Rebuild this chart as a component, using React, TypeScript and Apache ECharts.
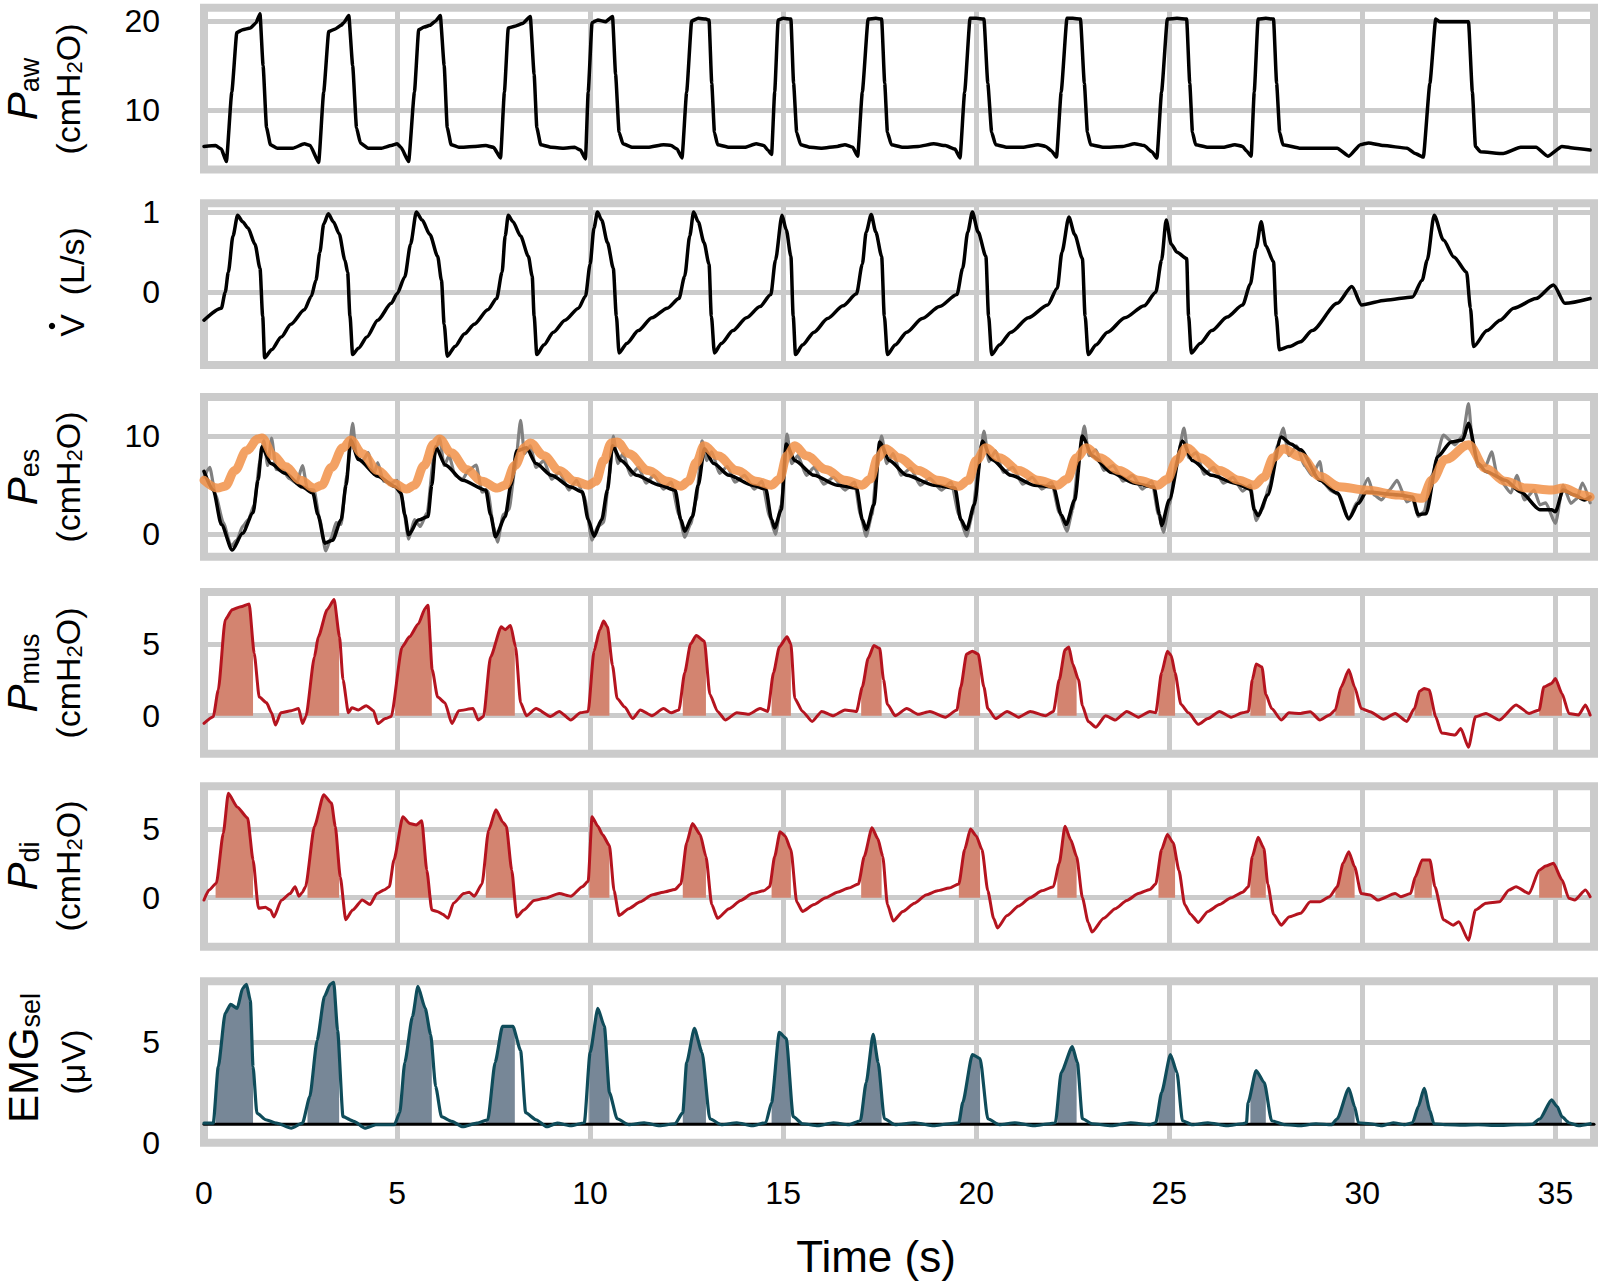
import React, { useEffect, useRef } from "react";
import * as echarts from "echarts";

// ---------------- DATA ----------------
const TIME_TICKS = [0, 5, 10, 15, 20, 25, 30, 35];

const PAW: number[][] = [
  [0,5.9],[0.3,6.0],[0.45,5.6],[0.58,4.2],[0.72,12],[0.85,18.7],[1.0,19.0],[1.2,19.2],[1.35,19.8],[1.45,20.8],[1.53,15],[1.62,8],[1.72,6.1],[1.9,5.7],[2.3,5.7],[2.6,6.2],[2.75,6.0],[2.97,4.1],[3.1,12],[3.23,18.8],[3.4,19.1],[3.55,19.5],[3.62,19.8],[3.75,20.6],[3.85,15],[3.95,8],[4.05,6.3],[4.25,5.7],[4.6,5.7],[4.85,6.0],[5.0,6.2],[5.1,5.8],[5.3,4.2],[5.45,12],[5.56,19],[5.7,19.3],[5.85,19.5],[6.0,20],[6.12,20.6],[6.22,15],[6.3,8],[6.4,6.1],[6.6,5.8],[7.0,5.9],[7.3,6.0],[7.5,5.8],[7.68,4.6],[7.78,12],[7.88,19.2],[8.05,19.4],[8.25,19.7],[8.45,20.5],[8.55,14],[8.62,8],[8.72,6.1],[9.0,5.8],[9.3,5.7],[9.6,5.8],[9.75,5.5],[9.88,4.5],[9.95,12],[10.05,19.8],[10.2,20.1],[10.4,19.9],[10.58,20.5],[10.66,14],[10.75,7.5],[10.85,6.2],[11.1,5.8],[11.5,5.8],[11.9,6.1],[12.1,6.0],[12.25,5.6],[12.38,4.6],[12.5,12],[12.63,20],[12.8,20.3],[13.0,20.2],[13.08,20.1],[13.15,13],[13.22,7.5],[13.3,6.1],[13.6,5.8],[14.0,5.8],[14.3,6.2],[14.5,6.0],[14.6,5.5],[14.7,5.0],[14.78,12],[14.87,20.1],[15.0,20.3],[15.2,20.2],[15.27,13],[15.35,7.5],[15.45,6.1],[15.7,5.8],[16.0,5.7],[16.4,5.9],[16.6,6.1],[16.8,5.8],[16.93,4.8],[17.05,12],[17.2,20.2],[17.4,20.3],[17.55,20.2],[17.63,13],[17.7,7.5],[17.8,6.1],[18.1,5.8],[18.5,5.9],[18.9,6.2],[19.2,6.0],[19.45,5.6],[19.58,4.6],[19.7,12],[19.84,20.3],[20.0,20.3],[20.2,20.2],[20.3,13],[20.4,7.5],[20.5,6.1],[20.8,5.8],[21.2,5.8],[21.6,6.1],[21.8,5.9],[21.95,5.4],[22.08,4.7],[22.2,12],[22.35,20.3],[22.5,20.3],[22.7,20.2],[22.8,13],[22.88,7.5],[22.96,6.1],[23.3,5.8],[23.8,5.9],[24.1,6.2],[24.35,6.0],[24.55,5.3],[24.68,4.6],[24.8,12],[24.95,20.2],[25.2,20.3],[25.45,20.2],[25.53,13],[25.6,7.5],[25.68,6.1],[26.0,5.8],[26.4,5.8],[26.7,6.1],[26.9,5.9],[27.0,5.4],[27.12,4.8],[27.2,12],[27.3,20.2],[27.5,20.3],[27.7,20.2],[27.78,13],[27.86,7.5],[27.94,6.1],[28.4,5.7],[29.35,5.7],[29.65,4.8],[29.95,6.1],[30.16,6.3],[30.55,6.0],[31.16,5.7],[31.37,5.1],[31.58,4.7],[31.75,13],[31.9,20.2],[32.0,19.9],[32.4,19.9],[32.75,19.9],[32.85,12],[32.93,5.9],[33.06,5.3],[33.65,5.1],[34.1,5.8],[34.5,5.8],[34.8,4.8],[35.17,5.9],[35.5,5.7],[35.9,5.5]
];

const VDOT: number[][] = [
  [0,-0.35],[0.45,-0.2],[0.55,0.0],[0.63,0.25],[0.75,0.7],[0.87,0.96],[1.0,0.88],[1.14,0.8],[1.32,0.6],[1.45,0.3],[1.52,-0.3],[1.57,-0.82],[1.75,-0.72],[2.0,-0.56],[2.25,-0.4],[2.6,-0.22],[2.78,-0.05],[2.9,0.15],[3.0,0.5],[3.1,0.85],[3.22,0.98],[3.35,0.88],[3.5,0.73],[3.65,0.4],[3.72,0.25],[3.78,-0.3],[3.85,-0.78],[4.0,-0.7],[4.22,-0.56],[4.5,-0.35],[4.85,-0.14],[5.0,-0.02],[5.2,0.19],[5.35,0.6],[5.5,1.0],[5.65,0.9],[5.85,0.72],[6.05,0.45],[6.15,0.15],[6.22,-0.4],[6.3,-0.8],[6.5,-0.68],[6.75,-0.52],[7.0,-0.4],[7.35,-0.22],[7.58,-0.08],[7.72,0.25],[7.8,0.7],[7.88,0.96],[8.0,0.88],[8.2,0.7],[8.4,0.45],[8.5,0.2],[8.55,-0.3],[8.62,-0.78],[8.8,-0.66],[9.05,-0.5],[9.35,-0.35],[9.7,-0.2],[9.88,-0.05],[10.0,0.35],[10.1,0.8],[10.19,1.0],[10.3,0.9],[10.45,0.62],[10.6,0.3],[10.68,-0.3],[10.75,-0.76],[10.95,-0.64],[11.25,-0.48],[11.6,-0.32],[12.0,-0.2],[12.3,-0.08],[12.45,0.2],[12.58,0.7],[12.68,1.0],[12.8,0.88],[12.95,0.62],[13.08,0.35],[13.14,-0.3],[13.22,-0.76],[13.4,-0.64],[13.7,-0.48],[14.05,-0.32],[14.4,-0.18],[14.68,-0.03],[14.8,0.4],[14.97,0.96],[15.08,0.78],[15.2,0.45],[15.26,-0.3],[15.32,-0.78],[15.5,-0.66],[15.8,-0.5],[16.15,-0.33],[16.55,-0.17],[16.9,-0.02],[17.05,0.35],[17.15,0.75],[17.28,0.97],[17.4,0.75],[17.55,0.45],[17.62,-0.3],[17.7,-0.78],[17.9,-0.66],[18.2,-0.5],[18.6,-0.33],[19.05,-0.18],[19.5,-0.03],[19.65,0.3],[19.78,0.75],[19.9,1.0],[20.05,0.75],[20.25,0.45],[20.32,-0.3],[20.4,-0.78],[20.6,-0.66],[20.9,-0.5],[21.35,-0.32],[21.85,-0.16],[22.1,0.05],[22.22,0.5],[22.4,0.94],[22.55,0.72],[22.75,0.42],[22.82,-0.3],[22.9,-0.78],[23.1,-0.66],[23.4,-0.5],[23.85,-0.32],[24.35,-0.17],[24.65,0.0],[24.8,0.4],[24.92,0.9],[25.05,0.6],[25.2,0.5],[25.45,0.42],[25.5,-0.3],[25.57,-0.76],[25.8,-0.64],[26.1,-0.48],[26.5,-0.31],[26.9,-0.16],[27.1,0.1],[27.25,0.55],[27.38,0.88],[27.5,0.58],[27.7,0.38],[27.77,-0.3],[27.85,-0.72],[28.1,-0.68],[28.4,-0.62],[28.7,-0.48],[29.35,-0.14],[29.73,0.07],[29.98,-0.16],[30.6,-0.1],[31.3,-0.06],[31.55,0.15],[31.68,0.4],[31.86,0.96],[32.1,0.65],[32.37,0.44],[32.7,0.25],[32.8,-0.2],[32.88,-0.68],[33.23,-0.48],[33.57,-0.35],[33.92,-0.2],[34.5,-0.08],[34.95,0.09],[35.25,-0.14],[35.9,-0.08]
];

const PES_RAW: number[][] = [
  [0,5.8],[0.15,6.8],[0.3,4.0],[0.5,1.2],[0.7,-1.2],[0.85,-0.6],[1.0,0.8],[1.15,1.5],[1.3,3.0],[1.45,7.5],[1.55,9.5],[1.65,7.0],[1.75,9.8],[1.87,6.6],[2.05,6.5],[2.2,5.7],[2.4,5.2],[2.55,7.0],[2.68,4.6],[2.85,4.5],[3.0,1.5],[3.15,-1.7],[3.3,-0.3],[3.42,1.2],[3.55,1.0],[3.7,6],[3.85,11.3],[3.95,8.0],[4.1,7.4],[4.25,8.3],[4.4,6.1],[4.5,7.3],[4.65,5.4],[4.85,5.2],[5.0,5.5],[5.12,3.8],[5.3,-0.5],[5.45,1.5],[5.6,0.8],[5.78,2.2],[5.95,7.8],[6.1,9.8],[6.22,7.0],[6.35,8.0],[6.5,6.0],[6.7,5.6],[6.85,6.5],[7.05,7.05],[7.2,4.3],[7.35,4.4],[7.5,0.8],[7.6,-0.8],[7.75,2.0],[7.9,2.5],[8.05,6.5],[8.2,11.6],[8.3,8.2],[8.45,9.0],[8.6,6.8],[8.8,7.5],[9.0,5.6],[9.2,6.3],[9.45,4.5],[9.65,5.5],[9.85,3.8],[10.05,-0.6],[10.2,0.8],[10.35,1.2],[10.5,6.0],[10.6,10.0],[10.72,7.2],[10.85,8.2],[11.05,6.0],[11.25,6.8],[11.45,5.2],[11.65,6.0],[11.9,4.6],[12.1,5.3],[12.3,2.0],[12.45,-0.3],[12.6,1.0],[12.75,3.5],[12.9,9.5],[13.02,7.5],[13.15,8.4],[13.35,6.2],[13.55,6.9],[13.75,5.3],[14.0,6.0],[14.25,4.6],[14.45,5.4],[14.65,1.8],[14.8,0.0],[14.95,3.0],[15.1,10.2],[15.22,7.2],[15.38,8.0],[15.6,6.0],[15.8,6.8],[16.05,5.1],[16.3,5.8],[16.6,4.5],[16.85,5.3],[17.0,2.0],[17.15,-0.2],[17.3,2.0],[17.45,8.0],[17.55,10.0],[17.68,7.2],[17.85,8.2],[18.05,6.0],[18.3,6.7],[18.55,5.0],[18.8,5.7],[19.1,4.5],[19.35,5.3],[19.55,2.0],[19.75,-0.2],[19.9,2.0],[20.05,6.5],[20.2,10.5],[20.33,7.4],[20.5,8.5],[20.7,6.3],[20.95,6.8],[21.2,5.1],[21.45,5.8],[21.7,4.6],[21.95,5.3],[22.15,2.2],[22.35,0.3],[22.5,2.5],[22.65,7.5],[22.8,11.0],[22.92,8.0],[23.1,8.6],[23.3,6.5],[23.55,7.0],[23.8,5.4],[24.05,6.0],[24.3,4.6],[24.55,5.4],[24.72,2.0],[24.85,0.2],[25.0,3.0],[25.2,7.5],[25.38,10.8],[25.5,7.8],[25.7,8.3],[25.9,6.1],[26.15,6.8],[26.4,5.2],[26.65,5.8],[26.9,4.4],[27.1,5.0],[27.25,1.4],[27.4,2.5],[27.6,5.0],[27.8,9.0],[27.95,10.8],[28.1,8.0],[28.3,9.0],[28.5,7.0],[28.7,6.0],[28.9,7.4],[29.0,5.2],[29.2,4.4],[29.4,4.0],[29.65,1.5],[29.85,3.2],[30.15,5.7],[30.3,4.0],[30.5,3.5],[30.7,4.5],[30.9,5.5],[31.15,3.3],[31.3,3.6],[31.45,1.8],[31.6,2.3],[31.8,6.0],[32.1,10.1],[32.4,9.1],[32.6,10.0],[32.75,13.3],[32.85,9.5],[33.0,6.9],[33.2,7.0],[33.35,8.4],[33.5,5.9],[33.85,4.2],[34.0,6.0],[34.2,3.5],[34.45,4.5],[34.6,3.0],[34.75,3.2],[35.0,1.1],[35.2,5.0],[35.4,3.15],[35.55,3.6],[35.7,5.2],[35.9,3.2]
];

const PES: number[][] = [
  [0,6.4],[0.24,4.5],[0.45,1.0],[0.73,-1.6],[1.0,0.1],[1.27,2.2],[1.4,5.5],[1.5,8.9],[1.73,7.2],[2.1,6.2],[2.55,4.8],[2.82,4.2],[2.95,2.0],[3.13,-0.9],[3.33,-0.6],[3.55,1.45],[3.68,5.0],[3.8,9.6],[4.0,7.6],[4.5,5.9],[4.95,4.85],[5.1,4.2],[5.2,2.0],[5.3,-0.05],[5.55,1.45],[5.8,1.8],[5.9,5.0],[6.0,8.9],[6.25,7.05],[6.7,5.5],[7.3,4.5],[7.42,2.0],[7.55,-0.25],[7.8,1.8],[7.95,5.0],[8.1,8.5],[8.35,8.8],[8.6,7.2],[9.0,6.0],[9.5,4.8],[9.8,4.3],[9.95,1.5],[10.1,-0.2],[10.3,1.5],[10.45,4.5],[10.58,9.0],[10.8,7.5],[11.2,6.0],[11.8,5.0],[12.2,4.5],[12.35,1.5],[12.45,0.3],[12.65,1.8],[12.8,5.0],[12.96,8.7],[13.2,7.2],[13.6,6.0],[14.2,5.0],[14.55,4.6],[14.7,1.5],[14.78,0.65],[14.95,2.5],[15.08,9.2],[15.3,7.5],[15.8,6.0],[16.4,5.0],[16.9,4.7],[17.05,1.5],[17.15,0.5],[17.35,3.0],[17.5,9.4],[17.75,7.5],[18.2,6.0],[18.9,5.0],[19.45,4.7],[19.6,1.5],[19.75,0.5],[19.95,3.0],[20.16,9.5],[20.4,7.6],[20.9,6.0],[21.5,5.0],[22.0,4.8],[22.2,2.0],[22.33,1.0],[22.55,3.5],[22.75,10.0],[23.0,8.0],[23.5,6.3],[24.1,5.2],[24.6,4.8],[24.75,2.0],[24.8,0.9],[25.0,3.5],[25.34,9.5],[25.6,7.5],[26.1,6.0],[26.7,5.2],[27.1,4.6],[27.2,2.5],[27.3,1.9],[27.55,4.0],[27.9,9.9],[28.15,9.2],[28.4,8.6],[28.9,5.5],[29.35,4.2],[29.65,1.6],[29.9,3.15],[30.1,4.3],[30.95,4.0],[31.3,3.8],[31.45,2.0],[31.65,2.1],[31.95,7.9],[32.3,9.4],[32.6,9.6],[32.75,11.3],[33.0,7.2],[33.2,6.4],[33.7,5.5],[34.1,4.3],[34.6,2.5],[34.9,2.5],[35.0,2.3],[35.2,4.5],[35.5,4.0],[35.75,3.5],[35.9,3.8]
];

const PES_SMOOTH: number[][] = [
  [0,5.5],[0.35,4.7],[0.55,4.9],[0.8,6.5],[1.1,8.5],[1.4,9.7],[1.5,9.8],[1.8,8.0],[2.1,6.9],[2.5,5.5],[2.85,4.7],[3.05,5.0],[3.3,6.8],[3.6,8.8],[3.8,9.6],[4.1,8.2],[4.5,6.5],[4.9,5.2],[5.25,4.6],[5.45,5.0],[5.7,7.0],[5.95,9.2],[6.1,9.7],[6.4,8.3],[6.8,6.6],[7.2,5.4],[7.6,4.7],[7.8,5.0],[8.05,7.0],[8.3,8.8],[8.45,9.3],[8.8,8.0],[9.2,6.5],[9.6,5.4],[9.95,5.0],[10.15,5.4],[10.35,7.5],[10.55,9.3],[10.7,9.4],[11.0,8.2],[11.5,6.5],[12.0,5.4],[12.35,4.9],[12.55,5.4],[12.75,7.3],[12.95,9.0],[13.3,8.0],[13.8,6.5],[14.3,5.4],[14.7,5.0],[14.9,5.6],[15.1,8.0],[15.3,9.0],[15.6,8.0],[16.1,6.6],[16.6,5.5],[17.05,5.0],[17.25,5.6],[17.45,7.8],[17.65,8.7],[18.0,7.8],[18.5,6.5],[19.0,5.5],[19.55,4.9],[19.8,5.5],[20.0,7.5],[20.25,8.8],[20.6,7.8],[21.1,6.5],[21.6,5.5],[22.1,5.0],[22.35,5.6],[22.6,7.8],[22.85,8.8],[23.2,7.8],[23.7,6.5],[24.2,5.5],[24.7,5.0],[24.95,5.6],[25.2,7.6],[25.45,8.8],[25.8,7.8],[26.3,6.5],[26.8,5.5],[27.2,5.0],[27.45,5.8],[27.7,7.8],[27.95,8.7],[28.4,7.9],[28.9,5.9],[29.4,4.85],[30.1,4.5],[30.95,4.0],[31.55,3.66],[31.8,5.5],[32.15,7.6],[32.75,9.1],[33.2,6.7],[33.7,5.4],[34.25,4.7],[34.9,4.5],[35.2,4.7],[35.7,4.0],[35.9,3.8]
];

const PMUS: number[][] = [
  [0,-0.53],[0.24,-0.07],[0.37,1.8],[0.55,6.7],[0.73,7.4],[0.95,7.6],[1.17,7.8],[1.3,4.35],[1.43,1.3],[1.62,0.9],[1.75,0.2],[1.85,-0.65],[1.99,0.2],[2.26,0.35],[2.45,0.5],[2.55,-0.55],[2.64,-0.05],[2.86,4.1],[2.96,5.5],[3.19,7.4],[3.37,8.1],[3.51,5.5],[3.6,2.5],[3.74,0.2],[3.83,0.55],[4.0,0.4],[4.2,0.7],[4.39,0.35],[4.5,-0.55],[4.7,-0.2],[4.85,-0.05],[5.13,4.8],[5.32,5.5],[5.55,6.4],[5.73,7.5],[5.8,7.7],[5.91,3.2],[6.05,1.3],[6.24,0.9],[6.42,-0.55],[6.6,0.35],[6.97,0.5],[7.1,-0.3],[7.24,-0.05],[7.42,4.1],[7.7,6.2],[7.8,6.0],[7.94,6.3],[8.07,4.8],[8.2,0.9],[8.35,0.0],[8.6,0.5],[8.97,-0.05],
  [9.2,0.3],[9.5,-0.3],[9.75,0.2],[9.95,0.3],[10.1,4.5],[10.25,6.0],[10.35,6.6],[10.45,6.2],[10.58,3.5],[10.7,1.2],[10.9,0.6],[11.1,-0.2],[11.3,0.4],[11.6,0.0],[11.9,0.5],[12.1,0.2],[12.3,0.4],
  [12.45,3.0],[12.6,5.0],[12.75,5.6],[12.96,5.2],[13.1,1.5],[13.3,0.3],[13.5,-0.3],[13.8,0.2],[14.1,0.1],[14.4,0.5],[14.6,0.3],
  [14.75,3.0],[14.9,4.8],[15.1,5.5],[15.2,5.0],[15.3,1.2],[15.5,0.3],[15.75,-0.4],[16.0,0.3],[16.3,0.0],[16.6,0.4],[16.9,0.3],
  [17.05,2.0],[17.2,4.0],[17.35,4.9],[17.5,4.7],[17.6,2.5],[17.7,0.8],[17.9,0.0],[18.2,0.5],[18.5,0.1],[18.8,0.3],[19.2,-0.1],[19.5,0.4],
  [19.6,2.0],[19.75,4.3],[19.9,4.5],[20.05,4.3],[20.2,2.0],[20.3,0.5],[20.5,-0.2],[20.8,0.3],[21.1,-0.1],[21.4,0.3],[21.8,0.0],[22.0,0.3],
  [22.15,2.5],[22.3,4.6],[22.4,4.8],[22.5,3.6],[22.65,2.5],[22.75,0.7],[22.9,-0.4],[23.1,-0.8],[23.35,0.0],[23.6,-0.3],[23.9,0.3],[24.2,-0.1],[24.5,0.3],[24.65,0.2],
  [24.8,3.0],[24.95,4.5],[25.05,4.2],[25.15,3.0],[25.3,0.8],[25.5,0.2],[25.75,-0.6],[26.0,-0.2],[26.3,0.3],[26.6,-0.1],[26.9,0.2],[27.05,0.3],
  [27.15,2.5],[27.25,3.6],[27.4,3.4],[27.5,1.5],[27.65,0.5],[27.9,-0.3],[28.1,0.2],[28.4,0.16],[28.65,0.28],[28.9,-0.3],[29.15,0.05],[29.3,0.4],[29.45,2.0],[29.65,3.2],[29.8,2.0],[29.97,0.5],[30.2,0.28],[30.55,-0.25],[30.85,0.16],[31.15,-0.4],[31.35,0.5],[31.48,1.7],[31.6,1.9],[31.73,1.8],[31.9,-0.07],[32.05,-1.2],[32.4,-1.35],[32.55,-0.9],[32.75,-2.2],[32.93,-0.07],[33.2,0.16],[33.55,-0.3],[33.98,0.75],[34.32,0.16],[34.58,0.4],[34.7,2.0],[34.9,2.25],[35.0,2.6],[35.17,1.55],[35.35,0.16],[35.6,0.05],[35.78,0.75],[35.9,0.05]
];

const PDI: number[][] = [
  [0,-0.17],[0.13,0.56],[0.32,1.05],[0.5,4.7],[0.63,7.6],[0.86,6.6],[1.13,5.8],[1.27,2.75],[1.41,-0.77],[1.59,-0.7],[1.72,-0.9],[1.81,-1.4],[2.0,-0.2],[2.23,0.3],[2.36,0.8],[2.46,0.1],[2.55,0.4],[2.63,0.8],[2.86,5.2],[3.1,7.5],[3.3,6.9],[3.4,5.2],[3.53,1.5],[3.67,-1.6],[3.85,-0.9],[4.1,-0.17],[4.3,-0.5],[4.48,0.3],[4.66,0.56],[4.8,0.8],[4.92,2.75],[5.15,5.9],[5.33,5.4],[5.5,5.3],[5.64,5.6],[5.77,2.0],[5.9,-0.9],[6.04,-1.0],[6.18,-1.2],[6.32,-1.5],[6.46,-0.4],[6.73,0.3],[6.87,0.4],[7.0,0.1],[7.2,1.0],[7.37,4.9],[7.56,6.4],[7.74,5.5],[7.83,5.2],[7.97,2.0],[8.1,-1.4],[8.28,-0.9],[8.55,-0.2],[8.83,-0.05],
  [9.2,0.3],[9.5,0.1],[9.8,0.8],[9.95,1.2],[10.05,5.9],[10.2,5.2],[10.32,4.6],[10.5,3.8],[10.62,0.5],[10.75,-1.3],[11.0,-0.8],[11.3,-0.3],[11.6,0.2],[11.9,0.4],[12.2,0.6],[12.35,1.0],
  [12.5,4.0],[12.65,5.4],[12.85,4.6],[13.0,3.0],[13.15,-0.5],[13.3,-1.5],[13.6,-0.8],[13.9,-0.2],[14.2,0.3],[14.5,0.5],[14.65,0.8],
  [14.78,3.0],[14.92,4.8],[15.05,4.5],[15.2,3.5],[15.35,-0.3],[15.5,-1.0],[15.8,-0.5],[16.1,0.0],[16.4,0.4],[16.7,0.7],[16.95,1.0],
  [17.1,3.0],[17.3,5.1],[17.45,4.3],[17.58,3.0],[17.7,-0.5],[17.85,-1.7],[18.1,-1.0],[18.4,-0.4],[18.7,0.2],[19.0,0.5],[19.3,0.7],[19.55,1.0],
  [19.7,3.5],[19.85,5.0],[20.0,4.5],[20.15,3.5],[20.3,0.5],[20.45,-1.5],[20.55,-2.2],[20.8,-1.3],[21.1,-0.6],[21.4,0.0],[21.7,0.5],[22.0,0.8],
  [22.15,2.5],[22.3,5.2],[22.45,4.2],[22.6,3.0],[22.75,0.0],[22.9,-1.8],[23.0,-2.5],[23.3,-1.5],[23.6,-0.8],[23.9,-0.2],[24.2,0.3],[24.5,0.6],[24.65,1.0],
  [24.8,3.5],[24.95,4.6],[25.1,4.0],[25.25,2.0],[25.4,-0.5],[25.55,-1.2],[25.75,-1.8],[26.0,-1.0],[26.3,-0.5],[26.6,0.0],[26.9,0.4],[27.05,0.8],
  [27.15,3.0],[27.3,4.4],[27.45,3.6],[27.55,1.0],[27.7,-1.2],[27.9,-2.0],[28.1,-1.4],[28.4,-1.14],[28.65,-0.3],[28.9,-0.3],[29.15,0.07],[29.35,0.8],[29.5,2.5],[29.65,3.35],[29.8,2.25],[29.97,0.3],[30.2,0.2],[30.4,-0.17],[30.85,0.3],[31.0,0.07],[31.25,0.3],[31.37,1.5],[31.55,2.75],[31.75,2.75],[31.88,0.8],[32.1,-1.6],[32.35,-2.0],[32.5,-1.75],[32.75,-3.1],[32.93,-0.9],[33.2,-0.4],[33.55,-0.3],[33.8,0.56],[33.98,0.8],[34.32,0.3],[34.58,2.0],[34.75,2.3],[34.95,2.5],[35.17,1.3],[35.35,-0.05],[35.5,-0.17],[35.78,0.56],[35.9,0.07]
];

const EMG: number[][] = [
  [0,0.98],[0.24,0.98],[0.37,3.8],[0.55,6.46],[0.69,6.9],[0.86,6.7],[1.0,7.7],[1.1,7.9],[1.2,7.1],[1.27,3.8],[1.37,1.48],[1.6,1.15],[1.88,0.98],[2.26,0.73],[2.55,0.98],[2.74,2.3],[2.93,5.1],[3.12,7.3],[3.27,7.9],[3.36,8.0],[3.46,5.6],[3.6,1.3],[3.88,1.07],[4.17,0.73],[4.45,0.9],[4.93,0.9],[5.07,1.5],[5.2,4.0],[5.4,6.3],[5.54,7.8],[5.73,6.7],[5.87,5.4],[6.0,2.8],[6.15,1.3],[6.42,1.07],[6.7,0.8],[7.07,0.98],[7.35,1.15],[7.54,4.0],[7.73,5.8],[8.0,5.8],[8.2,4.6],[8.33,1.5],[8.6,1.15],[8.88,0.8],[9.15,0.98],
  [9.5,0.85],[9.85,1.0],[10.0,4.5],[10.2,6.7],[10.37,5.8],[10.5,2.5],[10.7,1.2],[11.0,0.9],[11.4,1.0],[11.8,0.85],[12.2,0.95],
  [12.4,1.5],[12.5,4.0],[12.7,5.7],[12.9,4.5],[13.1,1.2],[13.4,0.9],[13.8,1.0],[14.2,0.85],[14.55,1.0],
  [14.7,2.0],[14.9,5.5],[15.08,5.2],[15.26,1.3],[15.5,0.95],[15.9,0.85],[16.3,1.0],[16.7,0.9],[17.0,1.1],
  [17.15,3.0],[17.33,5.4],[17.46,4.0],[17.62,1.2],[17.9,0.9],[18.4,1.0],[18.9,0.85],[19.3,0.95],[19.55,1.0],
  [19.65,2.0],[19.9,4.4],[20.1,4.2],[20.3,1.2],[20.6,0.9],[21.0,1.0],[21.5,0.85],[21.9,0.95],[22.05,1.0],
  [22.2,3.5],[22.49,4.8],[22.62,4.0],[22.75,1.2],[23.0,0.95],[23.5,0.85],[24.0,1.0],[24.5,0.9],[24.65,1.0],
  [24.8,2.5],[25.03,4.4],[25.2,3.5],[25.34,1.1],[25.6,0.9],[26.0,1.0],[26.5,0.85],[26.9,0.95],[27.0,1.0],
  [27.04,2.0],[27.25,3.6],[27.46,3.0],[27.65,1.1],[28.0,0.9],[28.4,0.85],[28.8,0.95],[29.2,0.9],[29.35,1.2],[29.65,2.72],[29.8,1.8],[29.9,1.0],[30.2,0.95],[30.5,0.85],[30.8,1.0],[31.1,0.9],[31.3,1.0],[31.45,1.8],[31.6,2.72],[31.75,1.6],[31.85,0.95],[32.2,0.9],[32.6,0.88],[33.0,0.9],[33.5,0.87],[34.0,0.9],[34.4,0.92],[34.6,1.2],[34.9,2.14],[35.05,1.8],[35.17,1.3],[35.35,1.0],[35.6,0.85],[35.9,0.95]
];

const EMG_BASELINE = 0.92;

// inspiratory windows shaded under Pmus, Pdi and EMG
const INSP_WINDOWS: number[][] = [
  [0.3,1.27],[2.68,3.5],[4.95,5.9],[7.3,8.05],[9.98,10.5],[12.4,13.0],[14.7,15.2],[17.02,17.55],[19.55,20.1],[22.1,22.6],[24.72,25.15],[27.1,27.5],[29.3,29.8],[31.35,31.8],[34.58,35.17]
];

const Y_TICKS: number[][] = [[10, 20], [0, 1], [0, 10], [0, 5], [0, 5], [0, 5]];
const Y_RANGES: number[][] = [[3.31, 21.47], [-0.91, 1.11], [-2.28, 13.97], [-2.65, 8.63], [-3.57, 8.11], [0, 8.05]];
const X_RANGE = [0, 36];

// ---------------- LAYOUT ----------------
const W = 1601, H = 1284;
const GRID_LEFT = 204, GRID_RIGHT = 7;
const PANEL_TOPS = [7.8, 203.3, 397, 592, 786.3, 981.3];
const PANEL_BOTTOMS = [169.5, 365, 556.7, 753.7, 946.7, 1142.8];
const FONT = "'Liberation Sans', Arial, sans-serif";
const GRID_GRAY = "#cbcbcb";
const RED = "#b5141f";
const SALMON = "#d38470";
const TEAL = "#0f4c5a";
const SLATE = "#778797";

function interp(sig: number[][], t: number): number {
  for (let i = 0; i < sig.length - 1; i++) {
    const [t0, v0] = sig[i];
    const [t1, v1] = sig[i + 1];
    if (t >= t0 && t <= t1) return v0 + ((v1 - v0) * (t - t0)) / (t1 - t0 || 1);
  }
  return sig[sig.length - 1][1];
}

function fillSeries(sig: number[][], base: number, color: string, idx: number) {
  return {
    type: "custom",
    coordinateSystem: "cartesian2d",
    xAxisIndex: idx,
    yAxisIndex: idx,
    silent: true,
    z: 2,
    data: INSP_WINDOWS.map((w) => [w[0], w[1], base]),
    encode: { x: [0, 1], y: 2 },
    renderItem: (params: any, api: any) => {
      const s = api.value(0);
      const e = api.value(1);
      const pts: number[][] = [];
      pts.push(api.coord([s, base]));
      pts.push(api.coord([s, interp(sig, s)]));
      for (const [t, v] of sig) if (t > s && t < e) pts.push(api.coord([t, v]));
      pts.push(api.coord([e, interp(sig, e)]));
      pts.push(api.coord([e, base]));
      return { type: "polygon", shape: { points: pts }, style: { fill: color } };
    },
  };
}

function lineSeries(data: number[][], idx: number, color: string, width: number, z = 3, smooth = 0.2) {
  return {
    type: "line",
    xAxisIndex: idx,
    yAxisIndex: idx,
    data,
    showSymbol: false,
    symbol: "none",
    silent: true,
    smooth,
    smoothMonotone: "x",
    z,
    lineStyle: { color, width, join: "round", cap: "round" },
  };
}

function gridLineSeries(idx: number) {
  return {
    type: "line",
    xAxisIndex: idx,
    yAxisIndex: idx,
    data: [],
    silent: true,
    z: 1,
    markLine: {
      silent: true,
      symbol: "none",
      z: 1,
      animation: false,
      lineStyle: { color: GRID_GRAY, width: 5, type: "solid" },
      label: {
        show: true,
        position: "start",
        distance: 44,
        formatter: (p: any) => String(p.value),
        fontSize: 32,
        fontFamily: FONT,
        color: "#000",
      },
      emphasis: { disabled: true },
      data: Y_TICKS[idx].map((v) => ({ yAxis: v })),
    },
  };
}

function yLabel(x: number, y: number, text: string, size: number) {
  return {
    type: "text",
    x,
    y,
    rotation: Math.PI / 2,
    silent: true,
    style: {
      text,
      fontSize: size,
      fontFamily: FONT,
      fill: "#000",
      align: "center",
      verticalAlign: "middle",
      rich: {
        P: { fontSize: 42, fontStyle: "italic", fontFamily: FONT, fill: "#000" },
        E: { fontSize: 42, fontFamily: FONT, fill: "#000" },
        sub: { fontSize: 27, fontFamily: FONT, fill: "#000", verticalAlign: "bottom", lineHeight: 26 },
        t: { fontSize: 34, fontFamily: FONT, fill: "#000" },
        s2: { fontSize: 22, fontFamily: FONT, fill: "#000", verticalAlign: "bottom", lineHeight: 22 },
      },
    },
  };
}

export default function App() {
  const ref = useRef<HTMLDivElement>(null);
  useEffect(() => {
    if (!ref.current) return;
    const chart = echarts.init(ref.current, undefined, { renderer: "svg" });
    const grids = PANEL_TOPS.map((top, i) => ({
      left: GRID_LEFT,
      right: GRID_RIGHT,
      top,
      height: PANEL_BOTTOMS[i] - top,
      show: true,
      borderColor: GRID_GRAY,
      borderWidth: 8,
      backgroundColor: "transparent",
      containLabel: false,
    }));
    const xAxes = PANEL_TOPS.map((_, i) => ({
      type: "value",
      gridIndex: i,
      min: X_RANGE[0],
      max: X_RANGE[1],
      interval: 5,
      axisLine: { show: false },
      axisTick: { show: false },
      splitLine: { show: true, lineStyle: { color: GRID_GRAY, width: 5 } },
      axisLabel: {
        show: i === 5,
        margin: 34,
        fontSize: 32,
        fontFamily: FONT,
        color: "#000",
        customValues: TIME_TICKS,
      },
    }));
    const yAxes = PANEL_TOPS.map((_, i) => ({
      type: "value",
      gridIndex: i,
      min: Y_RANGES[i][0],
      max: Y_RANGES[i][1],
      axisLine: { show: false },
      axisTick: { show: false },
      splitLine: { show: false },
      axisLabel: { show: false },
    }));

    const series: any[] = [];
    for (let i = 0; i < 6; i++) series.push(gridLineSeries(i));
    series.push(lineSeries(PAW, 0, "#000", 3.5, 3, 0.15));
    series.push(lineSeries(VDOT, 1, "#000", 3.5, 3, 0.25));
    series.push(lineSeries(PES_RAW, 2, "#808080", 3.2, 3, 0.2));
    series.push(lineSeries(PES, 2, "#000", 3.5, 4, 0.25));
    series.push(lineSeries(PES_SMOOTH, 2, "rgba(241,145,72,0.85)", 9, 5, 0.35));
    series.push(fillSeries(PMUS, 0, SALMON, 3));
    series.push(lineSeries(PMUS, 3, RED, 3, 3, 0.2));
    series.push(fillSeries(PDI, 0, SALMON, 4));
    series.push(lineSeries(PDI, 4, RED, 3, 3, 0.2));
    series.push(fillSeries(EMG, EMG_BASELINE, SLATE, 5));
    series.push(lineSeries([[X_RANGE[0], EMG_BASELINE], [X_RANGE[1], EMG_BASELINE]], 5, "#000", 3, 3, 0));
    series.push(lineSeries(EMG, 5, TEAL, 3.2, 4, 0.2));

    const graphic = [
      yLabel(22, 89, "{P|P}{sub|aw}", 40),
      yLabel(68, 89, "{t|(cmH}{s2|2}{t|O)}", 34),
      yLabel(72, 282, "{t|V  (L/s)}", 34),
      { type: "circle", shape: { cx: 52, cy: 326, r: 3.2 }, style: { fill: "#000" }, silent: true },
      yLabel(22, 477, "{P|P}{sub|es}", 40),
      yLabel(68, 477, "{t|(cmH}{s2|2}{t|O)}", 34),
      yLabel(22, 673, "{P|P}{sub|mus}", 40),
      yLabel(68, 673, "{t|(cmH}{s2|2}{t|O)}", 34),
      yLabel(22, 866, "{P|P}{sub|di}", 40),
      yLabel(68, 866, "{t|(cmH}{s2|2}{t|O)}", 34),
      yLabel(23, 1058, "{E|EMG}{sub|sel}", 40),
      yLabel(73, 1062, "{t|(\u03bcV)}", 34),
      {
        type: "text",
        x: 876,
        y: 1256,
        silent: true,
        style: {
          text: "Time (s)",
          fontSize: 44,
          fontFamily: FONT,
          fill: "#000",
          align: "center",
          verticalAlign: "middle",
        },
      },
    ];

    chart.setOption({
      animation: false,
      backgroundColor: "#fff",
      tooltip: { show: false },
      grid: grids,
      xAxis: xAxes,
      yAxis: yAxes,
      series,
      graphic,
    });
    return () => chart.dispose();
  }, []);
  return <div ref={ref} style={{ position: "absolute", left: 0, top: 0, width: W, height: H }} />;
}
